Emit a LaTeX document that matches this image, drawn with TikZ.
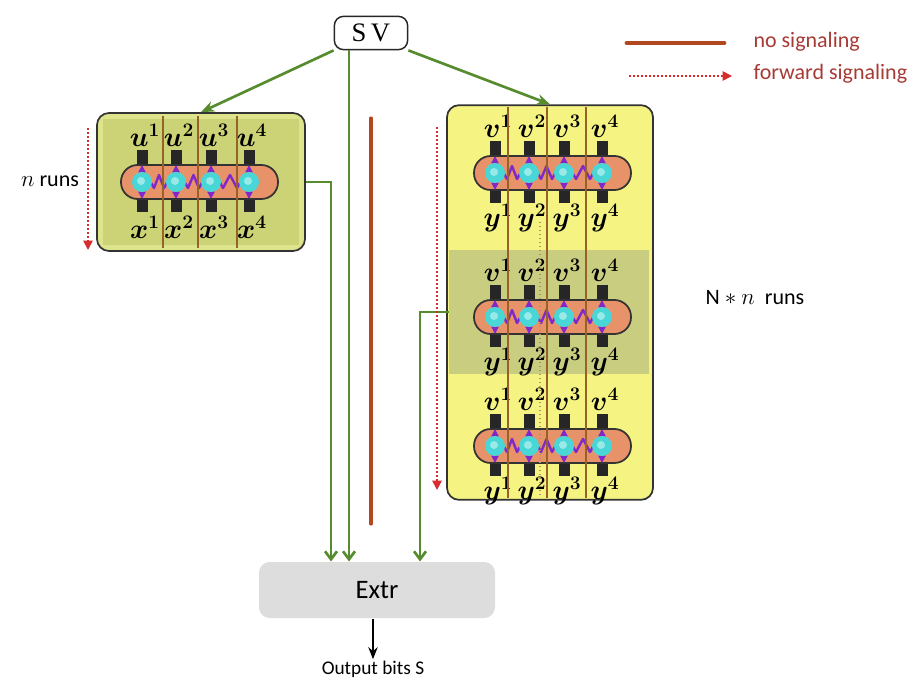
\documentclass[tikz,border=0pt]{standalone}
\usepackage{fontspec}
\setmainfont{Carlito}
\newfontfamily\svfont{Liberation Serif}
\usepackage{bm}
\usetikzlibrary{arrows.meta}

\definecolor{sigred}{RGB}{168,58,52}
\definecolor{fwdred}{RGB}{215,45,45}
\definecolor{brushbrown}{RGB}{178,72,32}
\definecolor{linkgreen}{RGB}{86,140,45}
\definecolor{olivebox}{RGB}{204,210,118}
\definecolor{olivelight}{RGB}{222,228,140}
\definecolor{yellowbox}{RGB}{245,243,130}
\definecolor{bandolive}{RGB}{201,205,128}
\definecolor{pillsalmon}{RGB}{232,146,106}
\definecolor{qcyan}{RGB}{72,214,214}
\definecolor{springpurple}{RGB}{128,40,200}
\definecolor{wirebrown}{RGB}{150,98,40}
\definecolor{extrgray}{RGB}{221,221,221}

\tikzset{every picture/.style={line width=0.75pt}}
\tikzset{
  greenlink/.style={draw=linkgreen, line width=2pt, -{Stealth[length=10pt,width=8pt]}},
  greeninto/.style={draw=linkgreen, line width=2pt, -{Straight Barb[length=6pt,width=9pt]}},
  fwdsignal/.style={draw=fwdred, line width=1.3pt, dash pattern=on 1.3pt off 1.7pt, -{Triangle[length=7pt,width=7pt]}},
  nosignal/.style={draw=brushbrown, line width=2.3pt, line cap=round},
  wire/.style={draw=wirebrown, line width=1pt},
  pill/.style={draw=black!80, fill=pillsalmon, line width=1.3pt, rounded corners=12.5pt},
  spring/.style={draw=springpurple, line width=1.8pt, line join=round},
  qspin/.style={draw=springpurple, line width=1pt, -{Triangle[length=5.5pt,width=5.5pt]}},
  qlabel/.style={inner sep=0.75pt, font=\fontsize{21}{23}\selectfont},
  sidetext/.style={inner sep=0.75pt, font=\fontsize{16.5}{19}\selectfont},
}

\begin{document}
\begin{tikzpicture}[x=0.75pt,y=0.75pt,yscale=-1,xscale=1]
\useasboundingbox (0,0) rectangle (910,688);

%Shape: Rounded Rect [id:single]
\node [draw=black!80, line width=1.3pt, fill=olivelight, rounded corners=9pt, inner sep=0pt, minimum width=156pt, minimum height=103.5pt] (single) at (201,182) {};
\fill [olivebox] (103,119) rectangle (299,245) ;
%Shape: Rounded Rect [id:multi]
\node [draw=black!80, line width=1.3pt, fill=yellowbox, rounded corners=9pt, inner sep=0pt, minimum width=154.5pt, minimum height=296pt] (multi) at (550,302.5) {};
%Shape: Rectangle [id:band]
\node [fill=bandolive, inner sep=0pt, minimum width=150pt, minimum height=93pt] (band) at (549,312) {};

%Chains of four
\foreach \cx/\cy/\ta/\tb in {142/182/u/x, 495/173/v/y, 495/317/v/y, 495/446/v/y}{
  \foreach \dx in {0,34,69,107}{
    \fill [black!85] (\cx+\dx-5.5,\cy-32) rectangle (\cx+\dx+5.5,\cy-16) ;
    \fill [black!85] (\cx+\dx-5.5,\cy+16) rectangle (\cx+\dx+5.5,\cy+30) ;
  }
  \draw [pill] (\cx-21,\cy-17) rectangle (\cx+136,\cy+17) ;
  \foreach \da/\db in {0/34, 34/69, 69/107}{
    \draw [spring] (\cx+\da+8,\cy-1) -- (\cx+\da+12,\cy+6) -- ({\cx+(\da+\db)/2},\cy-7) -- (\cx+\db-12,\cy+6) -- (\cx+\db-8,\cy-1) ;
  }
  \foreach \dx [count=\i] in {0,34,69,107}{
    \draw [qspin] (\cx+\dx,\cy-3) -- (\cx+\dx,\cy-17) ;
    \draw [qspin] (\cx+\dx,\cy+3) -- (\cx+\dx,\cy+17) ;
    \fill [qcyan] (\cx+\dx,\cy) circle (10) ;
    \fill [qcyan!55!white] (\cx+\dx-1,\cy-1) circle (4) ;
    \node [qlabel] (top-\cy-\i) at (\cx+\dx+3,\cy-47) {$\bm{\ta}^{\bm{\i}}$};
    \node [qlabel] (bot-\cy-\i) at (\cx+\dx+3,\cy+45) {$\bm{\tb}^{\bm{\i}}$};
  }
}

%Straight Lines [id:wires]
\foreach \wx in {163,198,237}{ \draw [wire] (\wx,116) -- (\wx,248) ; }
\foreach \wx in {508,547,586}{ \draw [wire] (\wx,107) -- (\wx,498) ; }
\draw [draw=wirebrown!70, line width=1pt, dotted] (540,222) -- (540,495) ;

% Text Node
\node [draw=black!85, line width=1.1pt, rounded corners=7pt, inner sep=0pt, minimum width=55pt, minimum height=25pt, font=\svfont\fontsize{20}{22}\selectfont] (SV) at (371,33) {S\,V};
% Text Node
\node [fill=extrgray, rounded corners=8pt, inner sep=0pt, minimum width=177pt, minimum height=42pt, font=\fontsize{20}{22}\selectfont] (Extr) at (377,590) {Extr};
% Text Node
\node [inner sep=0.75pt, font=\fontsize{14.5}{17}\selectfont] (output) at (373,669) {Output bits S};

\coordinate (lx) at (331,0);
\coordinate (mx) at (349,0);
\coordinate (rx) at (420,0);

%Green connectors
\draw [greenlink] (SV.south west) -- (single.north) ;
\draw [greenlink] (SV.south east) -- (multi.north) ;
\draw [greeninto] (SV.south -| mx) -- (Extr.north -| mx) ;
\draw [greeninto] (single.east) -| (Extr.north -| lx) ;
\draw [greeninto] (band.west) -| (Extr.north -| rx) ;
\draw [draw=black, line width=1.6pt, -{Stealth[length=9pt,width=7pt]}] (Extr.south -| output) -- (output.north) ;

%Signaling lines
\coordinate (nsTop) at (371,118);
\coordinate (nsBot) at (371,524);
\draw [nosignal] (nsTop) -- (nsBot) ;
\coordinate (lfTop) at (88,128);
\coordinate (lfBot) at (88,250);
\draw [fwdsignal] (lfTop) -- (lfBot) ;
\coordinate (rfTop) at (437,127);
\coordinate (rfBot) at (437,490);
\draw [fwdsignal] (rfTop) -- (rfBot) ;

%Legend
\coordinate (lgA) at (627,43);
\coordinate (lgB) at (724,43);
\draw [nosignal, line width=3.6pt] (lgA) -- (lgB) ;
\coordinate (lgC) at (629,76);
\coordinate (lgD) at (732,76);
\draw [fwdsignal] (lgC) -- (lgD) ;
% Text Node
\node [sidetext, anchor=west, text=sigred] (nosig) at (752,42) {no signaling};
% Text Node
\node [sidetext, anchor=west, text=sigred] (fwdsig) at (752,74) {forward signaling};
% Text Node
\node [sidetext] (nruns) at (50,181) {$n$ runs};
% Text Node
\node [sidetext, anchor=west] (Nruns) at (704,298) {$\mathrm{N}*n$~ runs};

\end{tikzpicture}
\end{document}
